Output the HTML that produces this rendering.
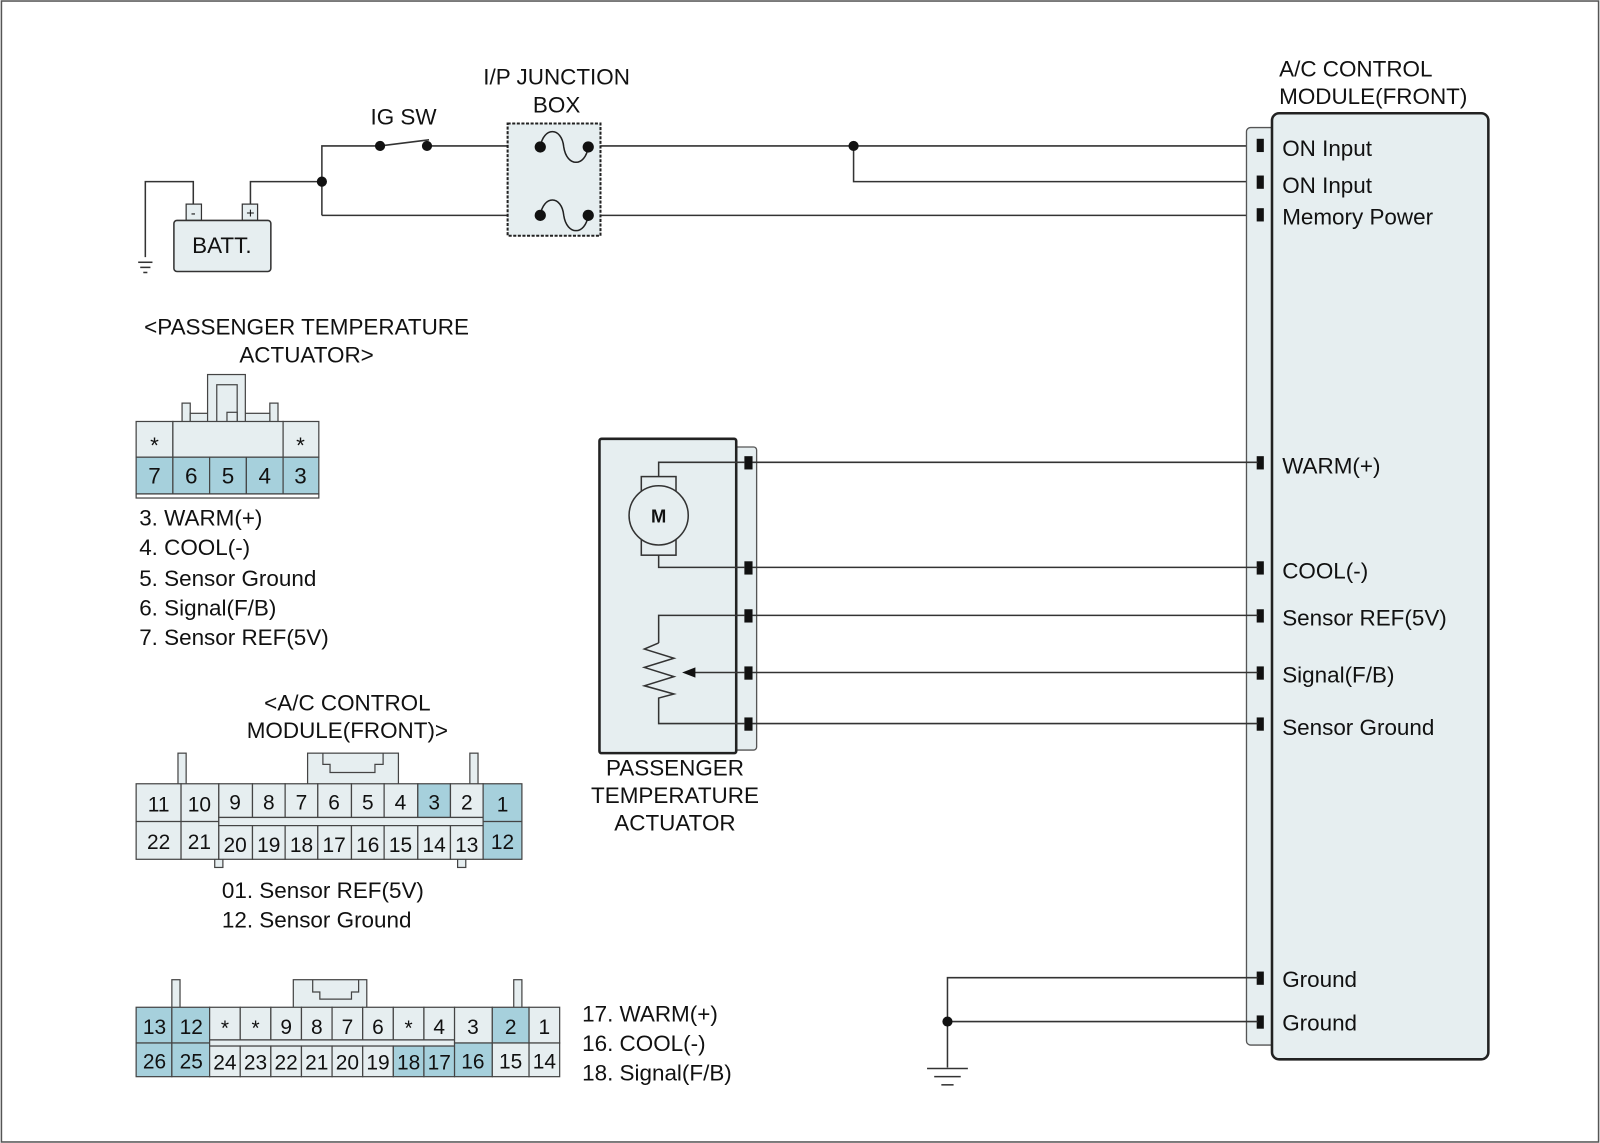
<!DOCTYPE html>
<html><head><style>
html,body{margin:0;padding:0;background:#fff;}
svg{display:block;}
text{font-family:"Liberation Sans",Arial,sans-serif;fill:#111;}
</style></head><body>
<svg width="1600" height="1143" viewBox="0 0 1567 1120" xmlns="http://www.w3.org/2000/svg">
<rect x="1" y="1" width="1565" height="1118" fill="#fff" stroke="#555" stroke-width="1.5"/>
<g font-size="22">
<text x="545" y="83" text-anchor="middle">I/P JUNCTION</text>
<text x="545" y="110" text-anchor="middle">BOX</text>
<text x="395" y="122" text-anchor="middle">IG SW</text>
<text x="1253" y="75">A/C CONTROL</text>
<text x="1253" y="102">MODULE(FRONT)</text>
</g>
<g stroke="#333" stroke-width="1.5" fill="none">
<polyline points="142,252 142,178 189,178 189,200"/>
<polyline points="245,200 245,178 315,178"/>
<polyline points="315,211 315,143 372,143"/>
<line x1="315" y1="211" x2="520" y2="211"/>
<polyline points="372,143 420,137"/>
<line x1="418" y1="143" x2="520" y2="143"/>
<line x1="576" y1="143" x2="1232" y2="143"/>
<polyline points="836,143 836,178 1232,178"/>
<line x1="576" y1="211" x2="1232" y2="211"/>
<line x1="135" y1="257" x2="149" y2="257"/>
<line x1="137" y1="262" x2="147" y2="262"/>
<line x1="140" y1="267" x2="144" y2="267"/>
</g>
<rect x="182" y="200" width="15" height="16" fill="#e6eef0" stroke="#333" stroke-width="1.2"/>
<rect x="237" y="200" width="15" height="16" fill="#e6eef0" stroke="#333" stroke-width="1.2"/>
<text x="189" y="213" font-size="14" text-anchor="middle">-</text>
<text x="245" y="213" font-size="14" text-anchor="middle">+</text>
<rect x="170" y="216" width="95" height="50" rx="3" fill="#e6eef0" stroke="#333" stroke-width="1.5"/>
<text x="217" y="248" font-size="22" text-anchor="middle">BATT.</text>
<g fill="#111">
<circle cx="315" cy="178" r="5"/><circle cx="372" cy="143" r="5"/><circle cx="418" cy="143" r="5"/>
<circle cx="836" cy="143" r="5"/>
</g>
<rect x="497" y="121" width="91" height="110" fill="#e6eef0" stroke="#222" stroke-width="2" stroke-dasharray="3,1.5"/>
<g stroke="#222" stroke-width="1.5" fill="none">
<path d="M529,144 C532,124 550,124 552,144 C555,164 573,164 576,144"/>
<path d="M529,211 C532,191 550,191 552,211 C555,231 573,231 576,211"/>
</g>
<g fill="#111"><circle cx="529" cy="144" r="5.5"/><circle cx="576" cy="144" r="5.5"/><circle cx="529" cy="211" r="5.5"/><circle cx="576" cy="211" r="5.5"/></g>

<rect x="1221" y="125" width="30" height="899" rx="4" fill="#e6eef0" stroke="#555" stroke-width="1.3"/>
<rect x="1246" y="111" width="212" height="927" rx="7" fill="#e6eef0" stroke="#222" stroke-width="2.5"/>
<g fill="#111">
<rect x="1231" y="136" width="7" height="13"/><rect x="1231" y="172" width="7" height="13"/><rect x="1231" y="204" width="7" height="13"/>
<rect x="1231" y="447" width="7" height="13"/><rect x="1231" y="550" width="7" height="13"/><rect x="1231" y="597" width="7" height="13"/>
<rect x="1231" y="653" width="7" height="13"/><rect x="1231" y="703" width="7" height="13"/>
<rect x="1231" y="952" width="7" height="13"/><rect x="1231" y="995" width="7" height="13"/>
</g>
<g font-size="22">
<text x="1256" y="153">ON Input</text>
<text x="1256" y="189">ON Input</text>
<text x="1256" y="220">Memory Power</text>
<text x="1256" y="464">WARM(+)</text>
<text x="1256" y="567">COOL(-)</text>
<text x="1256" y="613">Sensor REF(5V)</text>
<text x="1256" y="669">Signal(F/B)</text>
<text x="1256" y="720">Sensor Ground</text>
<text x="1256" y="967">Ground</text>
<text x="1256" y="1010">Ground</text>
</g>
<g stroke="#333" stroke-width="1.5" fill="none">
<polyline points="1232,958 928,958 928,1046"/>
<line x1="928" y1="1001" x2="1232" y2="1001"/>
<line x1="908" y1="1047" x2="948" y2="1047"/>
<line x1="915" y1="1055" x2="941" y2="1055"/>
<line x1="922" y1="1063" x2="934" y2="1063"/>
</g>
<circle cx="928" cy="1001" r="5" fill="#111"/>

<rect x="716" y="438" width="25" height="297" rx="3" fill="#e6eef0" stroke="#555" stroke-width="1.3"/>
<rect x="587" y="430" width="134" height="308" rx="2" fill="#e6eef0" stroke="#222" stroke-width="2.5"/>
<g stroke="#333" stroke-width="1.5" fill="none">
<line x1="737" y1="453" x2="1232" y2="453"/>
<line x1="737" y1="556" x2="1232" y2="556"/>
<line x1="737" y1="603" x2="1232" y2="603"/>
<line x1="737" y1="659" x2="1232" y2="659"/>
<line x1="737" y1="709" x2="1232" y2="709"/>
<polyline points="729,453 645,453 645,467"/>
<polyline points="729,556 645,556 645,544"/>
<rect x="628" y="467" width="34" height="77" fill="#e6eef0"/>
<polyline points="729,603 645,603 645,630"/>
<polyline points="645,630 631,636 660,645 631,654 660,663 631,672 660,680 645,684 645,709 729,709"/>
<line x1="672" y1="659" x2="729" y2="659"/>
</g>
<circle cx="645" cy="505" r="29" fill="#e6eef0" stroke="#333" stroke-width="1.5"/>
<text x="645" y="512" font-size="18" font-weight="bold" text-anchor="middle">M</text>
<polygon points="668,659 681,654 681,664" fill="#111"/>
<g fill="#111">
<rect x="729" y="447" width="8" height="13"/><rect x="729" y="550" width="8" height="13"/><rect x="729" y="597" width="8" height="13"/><rect x="729" y="653" width="8" height="13"/><rect x="729" y="703" width="8" height="13"/>
</g>
<g font-size="22" text-anchor="middle">
<text x="661" y="760">PASSENGER</text>
<text x="661" y="787">TEMPERATURE</text>
<text x="661" y="814">ACTUATOR</text>
</g>

<g font-size="22">
<text x="300" y="328" text-anchor="middle">&lt;PASSENGER TEMPERATURE</text>
<text x="300" y="355" text-anchor="middle">ACTUATOR&gt;</text>
</g>
<g stroke="#444" stroke-width="1.2" fill="#e6eef0">
<rect x="178" y="395" width="8" height="20"/><rect x="264" y="395" width="8" height="20"/>
<rect x="186" y="405" width="78" height="10"/>
<rect x="203" y="367" width="37" height="48"/>
<rect x="212" y="377" width="20" height="38"/>
<rect x="222" y="404" width="10" height="11"/>
<rect x="133" y="413" width="36" height="35"/><rect x="169" y="413" width="108" height="35"/><rect x="277" y="413" width="35" height="35"/>
<g fill="#a6d0dc">
<rect x="133" y="448" width="36" height="36"/><rect x="169" y="448" width="36" height="36"/><rect x="205" y="448" width="36" height="36"/><rect x="241" y="448" width="36" height="36"/><rect x="277" y="448" width="35" height="36"/>
</g>
<rect x="133" y="484" width="179" height="4" fill="#fff"/>
</g>
<g font-size="22" text-anchor="middle">
<text x="151" y="444">*</text><text x="294" y="444">*</text>
<text x="151" y="474">7</text><text x="187" y="474">6</text><text x="223" y="474">5</text><text x="259" y="474">4</text><text x="294" y="474">3</text>
</g>
<g font-size="22">
<text x="136" y="515">3. WARM(+)</text>
<text x="136" y="544">4. COOL(-)</text>
<text x="136" y="574">5. Sensor Ground</text>
<text x="136" y="603">6. Signal(F/B)</text>
<text x="136" y="632">7. Sensor REF(5V)</text>
</g>

<g font-size="22" text-anchor="middle">
<text x="340" y="696">&lt;A/C CONTROL</text>
<text x="340" y="723">MODULE(FRONT)&gt;</text>
</g>
<g stroke="#444" stroke-width="1.2" fill="#e6eef0">
<rect x="174" y="738" width="8" height="32"/><rect x="460" y="738" width="8" height="32"/>
<rect x="301" y="738" width="89" height="32"/>
<polyline points="316,738 316,749 323,749 323,757 367,757 367,749 375,749 375,738" fill="none"/>
<rect x="210" y="840" width="8" height="10"/><rect x="448" y="840" width="8" height="10"/>
<rect x="133" y="768" width="44" height="37"/><rect x="177" y="768" width="37" height="37"/>
<rect x="133" y="805" width="44" height="37"/><rect x="177" y="805" width="37" height="37"/>
<rect x="214" y="768" width="33" height="33"/><rect x="247" y="768" width="32" height="33"/><rect x="279" y="768" width="32" height="33"/><rect x="311" y="768" width="33" height="33"/><rect x="344" y="768" width="32" height="33"/><rect x="376" y="768" width="33" height="33"/><rect x="409" y="768" width="32" height="33" fill="#a6d0dc"/><rect x="441" y="768" width="32" height="33"/>
<rect x="214" y="801" width="259" height="8"/>
<rect x="214" y="809" width="33" height="33"/><rect x="247" y="809" width="32" height="33"/><rect x="279" y="809" width="32" height="33"/><rect x="311" y="809" width="33" height="33"/><rect x="344" y="809" width="32" height="33"/><rect x="376" y="809" width="33" height="33"/><rect x="409" y="809" width="32" height="33"/><rect x="441" y="809" width="32" height="33"/>
<rect x="473" y="768" width="38" height="37" fill="#a6d0dc"/><rect x="473" y="805" width="38" height="37" fill="#a6d0dc"/>
</g>
<g font-size="20.5" text-anchor="middle">
<text x="155" y="795">11</text><text x="195" y="795">10</text><text x="230" y="793">9</text><text x="263" y="793">8</text><text x="295" y="793">7</text><text x="327" y="793">6</text><text x="360" y="793">5</text><text x="392" y="793">4</text><text x="425" y="793">3</text><text x="457" y="793">2</text><text x="492" y="795">1</text>
<text x="155" y="832">22</text><text x="195" y="832">21</text><text x="230" y="835">20</text><text x="263" y="835">19</text><text x="295" y="835">18</text><text x="327" y="835">17</text><text x="360" y="835">16</text><text x="392" y="835">15</text><text x="425" y="835">14</text><text x="457" y="835">13</text><text x="492" y="832">12</text>
</g>
<g font-size="22">
<text x="217" y="880">01. Sensor REF(5V)</text>
<text x="217" y="909">12. Sensor Ground</text>
</g>

<g stroke="#444" stroke-width="1.2" fill="#e6eef0">
<rect x="168" y="960" width="8" height="29"/><rect x="503" y="960" width="8" height="29"/>
<rect x="287" y="960" width="72" height="29"/>
<polyline points="306,960 306,972 313,972 313,979 344,979 344,972 351,972 351,960" fill="none"/>
<rect x="133" y="987" width="35" height="35" fill="#a6d0dc"/><rect x="168" y="987" width="37" height="35" fill="#a6d0dc"/>
<rect x="133" y="1022" width="35" height="33" fill="#a6d0dc"/><rect x="168" y="1022" width="37" height="33" fill="#a6d0dc"/>
<rect x="205" y="987" width="30" height="32"/><rect x="235" y="987" width="30" height="32"/><rect x="265" y="987" width="30" height="32"/><rect x="295" y="987" width="30" height="32"/><rect x="325" y="987" width="30" height="32"/><rect x="355" y="987" width="30" height="32"/><rect x="385" y="987" width="30" height="32"/><rect x="415" y="987" width="30" height="32"/>
<rect x="205" y="1019" width="240" height="6"/>
<rect x="205" y="1025" width="30" height="30"/><rect x="235" y="1025" width="30" height="30"/><rect x="265" y="1025" width="30" height="30"/><rect x="295" y="1025" width="30" height="30"/><rect x="325" y="1025" width="30" height="30"/><rect x="355" y="1025" width="30" height="30"/><rect x="385" y="1025" width="30" height="30" fill="#a6d0dc"/><rect x="415" y="1025" width="30" height="30" fill="#a6d0dc"/>
<rect x="445" y="987" width="37" height="35"/><rect x="445" y="1022" width="37" height="33" fill="#a6d0dc"/>
<rect x="482" y="987" width="36" height="35" fill="#a6d0dc"/><rect x="482" y="1022" width="36" height="33"/>
<rect x="518" y="987" width="30" height="35"/><rect x="518" y="1022" width="30" height="33"/>
</g>
<g font-size="20.5" text-anchor="middle">
<text x="151" y="1013">13</text><text x="187" y="1013">12</text><text x="220" y="1014">*</text><text x="250" y="1014">*</text><text x="280" y="1013">9</text><text x="310" y="1013">8</text><text x="340" y="1013">7</text><text x="370" y="1013">6</text><text x="400" y="1014">*</text><text x="430" y="1013">4</text><text x="463" y="1013">3</text><text x="500" y="1013">2</text><text x="533" y="1013">1</text>
<text x="151" y="1047">26</text><text x="187" y="1047">25</text><text x="220" y="1048">24</text><text x="250" y="1048">23</text><text x="280" y="1048">22</text><text x="310" y="1048">21</text><text x="340" y="1048">20</text><text x="370" y="1048">19</text><text x="400" y="1048">18</text><text x="430" y="1048">17</text><text x="463" y="1047">16</text><text x="500" y="1047">15</text><text x="533" y="1047">14</text>
</g>
<g font-size="22">
<text x="570" y="1001">17. WARM(+)</text>
<text x="570" y="1030">16. COOL(-)</text>
<text x="570" y="1059">18. Signal(F/B)</text>
</g>
</svg>
</body></html>
